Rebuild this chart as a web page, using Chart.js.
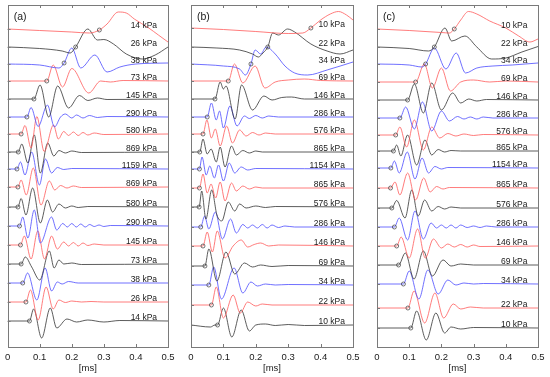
<!DOCTYPE html>
<html>
<head>
<meta charset="utf-8">
<script src="https://cdn.jsdelivr.net/npm/chart.js@4.4.0/dist/chart.umd.min.js"></script>
<style>
  html, body { margin: 0; padding: 0; background: #fff; }
  #wrap { position: relative; width: 550px; height: 377px; }
  .panel { position: absolute; top: 0; height: 377px; }
</style>
</head>
<body>
<div id="wrap">
  <div class="panel" style="left:0;width:183px"><canvas id="chartA"></canvas></div>
  <div class="panel" style="left:183px;width:183px"><canvas id="chartB"></canvas></div>
  <div class="panel" style="left:366px;width:184px"><canvas id="chartC"></canvas></div>
</div>
<script>
// data: time in ms, amplitude (up = positive)

const xTicks = [0, 0.1, 0.2, 0.3, 0.4, 0.5];
const traceColors = ['#ff5a5a', '#333333', '#4b4bff'];

// ---- panel (a)
const pressuresA = [14, 26, 38, 73, 145, 290, 580, 869, 1159, 869, 580, 290, 145, 73, 38, 26, 14];
const baselinesA = [29, 47, 64, 81, 99, 117, 134, 152, 169, 187, 207, 226, 245, 264, 283, 302, 321];
const markersA = [0.286, 0.212, 0.176, 0.122, 0.082, 0.06, 0.042, 0.033, 0.029, 0.032, 0.032, 0.037, 0.04, 0.042, 0.047, 0.057, 0.068];
const wavesA = [
  [[0,0],[0.1,-1.5],[0.2,-3],[0.255,-4],[0.286,-1],[0.31,5],[0.345,17],[0.37,16],[0.395,10],[0.44,1],[0.47,-6],[0.5,-13]],
  [[0,0],[0.1,-1.5],[0.17,-4],[0.195,-6],[0.212,0],[0.25,18],[0.28,7],[0.3,7.5],[0.33,3],[0.37,-7],[0.42,-12],[0.46,-8],[0.5,0]],
  [[0,0],[0.1,-1],[0.16,-4],[0.176,1],[0.2,16],[0.228,-4],[0.272,9],[0.31,-8],[0.35,-3],[0.4,0],[0.5,1]],
  [[0,0],[0.1,0],[0.122,0],[0.142,16],[0.171,-6],[0.2,12.5],[0.253,-12],[0.29,0],[0.32,-1],[0.36,0.5],[0.5,0]],
  [[0,0],[0.07,0],[0.082,0],[0.101,14],[0.128,-18],[0.156,13],[0.19,-9],[0.224,3.5],[0.25,-1.5],[0.28,1],[0.31,-0.5],[0.5,0]],
  [[0,0],[0.05,0],[0.06,0],[0.073,9.5],[0.095,-9.5],[0.124,12],[0.146,-10],[0.165,0],[0.18,3],[0.2,-1],[0.215,2],[0.235,-1],[0.255,1.5],[0.28,-0.5],[0.31,0.5],[0.5,0]],
  [[0,0],[0.035,0],[0.042,0],[0.054,8.5],[0.073,-14],[0.091,17.5],[0.114,-17.5],[0.143,9],[0.158,-5],[0.175,2.5],[0.19,-1.5],[0.205,2],[0.22,-1.5],[0.235,1.5],[0.25,-1],[0.27,1],[0.3,-0.5],[0.5,0]],
  [[0,0],[0.025,0],[0.033,0],[0.044,8],[0.063,-11],[0.083,17],[0.102,-21],[0.125,9],[0.144,-4],[0.16,1.5],[0.18,-1],[0.2,1],[0.23,-0.5],[0.5,0]],
  [[0,0],[0.022,0],[0.029,0],[0.04,7],[0.054,-6],[0.075,17],[0.099,-16],[0.118,10],[0.137,-4],[0.155,1.5],[0.175,-0.5],[0.2,0.5],[0.5,0]],
  [[0,0],[0.025,0],[0.032,0],[0.042,7],[0.058,-8],[0.08,19],[0.104,-18],[0.13,6],[0.147,-3],[0.165,1.5],[0.185,-1],[0.205,1],[0.23,-0.5],[0.5,0]],
  [[0,0],[0.025,0],[0.032,0],[0.042,8.5],[0.057,-8],[0.078,19],[0.102,-16],[0.124,7],[0.14,-5],[0.16,3],[0.18,-1],[0.2,1],[0.22,-0.5],[0.25,0.5],[0.5,0]],
  [[0,0],[0.03,0],[0.037,0],[0.047,9],[0.063,-12],[0.083,16],[0.102,-17],[0.137,9],[0.153,-4],[0.172,2.5],[0.186,-1],[0.2,2.5],[0.214,-1],[0.228,2],[0.242,-1],[0.256,1.5],[0.27,-0.5],[0.285,1],[0.3,-0.5],[0.32,0.5],[0.5,0]],
  [[0,0],[0.033,0],[0.04,0],[0.052,9],[0.073,-14],[0.094,14],[0.115,-14],[0.137,9],[0.155,-4],[0.175,3],[0.19,-1],[0.205,2.5],[0.22,-1],[0.235,2],[0.25,-0.5],[0.27,1],[0.3,0],[0.5,0]],
  [[0,0],[0.035,0],[0.042,0],[0.055,7],[0.075,-3],[0.1,-16],[0.13,13],[0.145,-4],[0.16,4],[0.175,0],[0.2,1],[0.23,-0.5],[0.5,0]],
  [[0,0],[0.04,0],[0.047,0],[0.062,10],[0.091,-17],[0.117,15],[0.137,-8],[0.155,1],[0.17,-1],[0.19,1.5],[0.22,0],[0.5,0]],
  [[0,0],[0.05,0],[0.057,0],[0.071,12],[0.095,-18],[0.12,15],[0.142,-7],[0.16,2],[0.18,-0.5],[0.2,1],[0.23,0],[0.26,0.5],[0.3,0],[0.5,0]],
  [[0,0],[0.06,0],[0.068,0],[0.081,12],[0.106,-17],[0.133,13],[0.153,-7],[0.185,2],[0.215,-1],[0.25,1],[0.3,-1],[0.35,0.5],[0.5,0]]
];

// ---- panel (b)
const pressuresB = [10, 22, 34, 69, 146, 286, 576, 865, 1154, 865, 576, 286, 146, 69, 34, 22, 10];
const baselinesB = [28, 47, 64, 81, 99, 117, 134, 152, 169, 188, 207, 227, 246, 266, 285, 305, 325];
const markersB = [0.37, 0.237, 0.185, 0.115, 0.074, 0.05, 0.037, 0.027, 0.026, 0.026, 0.025, 0.03, 0.037, 0.043, 0.055, 0.063, 0.082];
const wavesB = [
  [[0,0],[0.1,-1.5],[0.2,-3.5],[0.3,-5.5],[0.345,-5],[0.37,0],[0.4,8],[0.43,14],[0.455,16.5],[0.48,13],[0.5,8]],
  [[0,0],[0.08,-1],[0.15,-3],[0.19,-7],[0.208,-10],[0.222,-6],[0.237,0],[0.252,14],[0.27,12],[0.298,18],[0.32,15],[0.37,3],[0.42,-4],[0.46,-7],[0.5,-3]],
  [[0,0],[0.1,-2],[0.15,-5],[0.168,-11],[0.185,0],[0.198,14],[0.215,10],[0.232,17],[0.26,10],[0.29,-2],[0.32,-9],[0.36,-11],[0.42,-6],[0.5,2]],
  [[0,0],[0.1,0],[0.115,0],[0.134,17],[0.16,-2],[0.198,15],[0.228,-7],[0.26,-1],[0.3,1],[0.35,2],[0.4,0.5],[0.5,0]],
  [[0,0],[0.065,0],[0.074,0],[0.09,17],[0.1,10],[0.108,13],[0.136,-20],[0.156,14],[0.19,-11],[0.225,3],[0.25,-1],[0.28,1.5],[0.31,2],[0.35,0],[0.5,0]],
  [[0,0],[0.043,0],[0.05,0],[0.063,14],[0.078,-3],[0.088,6],[0.1,-11],[0.12,11],[0.142,-9],[0.165,1],[0.18,-1.5],[0.2,1.5],[0.22,-1],[0.24,1],[0.27,0],[0.5,0]],
  [[0,0],[0.03,0],[0.037,0],[0.049,14],[0.063,-4],[0.075,5],[0.09,-12],[0.11,8],[0.128,-9],[0.15,4],[0.17,-2],[0.19,1.5],[0.21,-1],[0.23,1],[0.26,0],[0.5,0]],
  [[0,0],[0.02,0],[0.027,0],[0.037,13],[0.05,-2],[0.062,3],[0.078,-10],[0.09,5],[0.105,-15],[0.125,6],[0.14,-3],[0.16,1.5],[0.18,-1],[0.2,1],[0.22,0],[0.5,0]],
  [[0,0],[0.02,0],[0.026,0],[0.034,12],[0.047,-6],[0.058,3],[0.072,-9],[0.085,4],[0.1,-12],[0.118,6],[0.135,-4],[0.155,2],[0.175,-1],[0.2,0.5],[0.5,0]],
  [[0,0],[0.02,0],[0.026,0],[0.037,14],[0.05,-5],[0.062,4],[0.076,-10],[0.09,6],[0.105,-13],[0.125,5],[0.14,-3],[0.16,2],[0.18,-1],[0.2,1],[0.22,0],[0.5,0]],
  [[0,0],[0.02,0],[0.025,0],[0.033,16],[0.046,-12],[0.064,17],[0.08,-8],[0.095,-14],[0.115,5],[0.135,-4],[0.15,3],[0.17,-1],[0.2,1],[0.23,-0.5],[0.26,0.5],[0.5,0]],
  [[0,0],[0.024,0],[0.03,0],[0.042,11],[0.055,-2],[0.075,15],[0.097,-12],[0.122,8],[0.14,-6],[0.16,2.5],[0.175,-1],[0.19,2],[0.205,-1],[0.22,2.5],[0.235,-1],[0.25,2],[0.27,-0.5],[0.29,1],[0.32,0],[0.5,0]],
  [[0,0],[0.03,0],[0.037,0],[0.05,14],[0.066,-6],[0.081,15],[0.105,-12],[0.13,0],[0.155,6],[0.175,-1],[0.195,1.5],[0.215,3],[0.24,0],[0.27,1],[0.5,0]],
  [[0,0],[0.036,0],[0.043,0],[0.055,17],[0.08,-15],[0.108,14],[0.135,-8],[0.165,3],[0.19,-1],[0.215,1],[0.25,-0.5],[0.3,0.5],[0.5,0]],
  [[0,0],[0.048,0],[0.055,0],[0.07,18],[0.094,-14],[0.133,17],[0.16,-8],[0.185,3],[0.205,-1],[0.23,1],[0.26,0],[0.3,0.5],[0.5,0]],
  [[0,0],[0.056,0],[0.063,0],[0.078,18],[0.1,-13],[0.13,10],[0.152,-8],[0.175,3],[0.2,-1],[0.22,1],[0.25,0],[0.5,0]],
  [[0,0],[0.06,-2],[0.074,0],[0.082,0],[0.1,17],[0.126,-12],[0.155,15],[0.18,-6],[0.2,0],[0.23,1],[0.26,-0.5],[0.3,0.5],[0.35,-0.5],[0.5,0]]
];

// ---- panel (c)
const pressuresC = [10, 22, 34, 69, 146, 286, 576, 865, 1154, 865, 576, 286, 146, 69, 34, 22, 10];
const baselinesC = [29, 47, 64, 82, 100, 118, 135, 151, 168, 188, 208, 227, 246, 265, 284, 308, 328];
const markersC = [0.24, 0.178, 0.151, 0.12, 0.095, 0.071, 0.058, 0.051, 0.043, 0.042, 0.046, 0.054, 0.061, 0.067, 0.082, 0.096, 0.105];
const wavesC = [
  [[0,0],[0.1,-1.5],[0.2,-3.5],[0.225,-4],[0.24,0],[0.26,9],[0.284,17.5],[0.31,15],[0.35,8],[0.4,1],[0.44,-7],[0.475,-13],[0.5,-10]],
  [[0,0],[0.1,-1.5],[0.16,-4],[0.178,0],[0.211,19],[0.232,6],[0.273,11],[0.31,0],[0.356,-12],[0.4,-11],[0.45,-5],[0.5,0.5]],
  [[0,0],[0.1,-1],[0.14,-3],[0.151,0],[0.178,16],[0.214,-5],[0.246,11],[0.275,-9],[0.31,-4],[0.36,-2],[0.42,-1],[0.5,1]],
  [[0,0],[0.1,0],[0.12,0],[0.147,18],[0.172,-6],[0.2,14],[0.228,-9],[0.26,0],[0.3,2],[0.35,0],[0.4,1],[0.5,0]],
  [[0,0],[0.085,0],[0.095,0],[0.116,16],[0.144,-13],[0.17,17],[0.2,-10],[0.235,7],[0.26,-3],[0.285,1],[0.31,-1],[0.34,0.5],[0.5,0]],
  [[0,0],[0.062,0],[0.071,0],[0.089,11],[0.116,-11],[0.141,16],[0.17,-13],[0.2,7],[0.225,-3],[0.25,1.5],[0.27,-1],[0.29,1],[0.31,-1],[0.33,1],[0.36,0],[0.5,0]],
  [[0,0],[0.05,0],[0.058,0],[0.071,8],[0.092,-12],[0.116,15],[0.144,-15],[0.17,8],[0.195,-3],[0.22,1.5],[0.245,-1],[0.27,1],[0.3,-0.5],[0.33,0.5],[0.5,0]],
  [[0,0],[0.043,0],[0.051,0],[0.061,6],[0.074,-5],[0.095,16],[0.123,-14],[0.149,11],[0.17,-4],[0.19,1.5],[0.21,-1],[0.23,0.5],[0.26,0],[0.5,0]],
  [[0,0],[0.036,0],[0.043,0],[0.054,7],[0.069,-5],[0.094,16],[0.118,-11],[0.14,10],[0.16,-5],[0.18,1.5],[0.2,-1],[0.22,0.5],[0.5,0]],
  [[0,0],[0.035,0],[0.042,0],[0.056,6],[0.071,-7],[0.095,15],[0.12,-12],[0.145,10],[0.165,-4],[0.185,1.5],[0.205,-1],[0.225,0.5],[0.5,0]],
  [[0,0],[0.038,0],[0.046,0],[0.061,7.5],[0.087,-10],[0.108,18],[0.128,-8],[0.148,8],[0.17,-3],[0.19,1.5],[0.21,-1],[0.23,1],[0.26,0],[0.5,0]],
  [[0,0],[0.047,0],[0.054,0],[0.069,9],[0.095,-13],[0.118,16],[0.144,-12],[0.168,4],[0.185,-1],[0.2,2],[0.215,-1],[0.23,2],[0.245,-1],[0.26,2],[0.28,-0.5],[0.3,1],[0.32,-0.5],[0.34,1],[0.37,0],[0.5,0]],
  [[0,0],[0.053,0],[0.061,0],[0.075,9],[0.1,-12],[0.126,17],[0.15,-12],[0.175,7],[0.2,-2],[0.22,2],[0.24,-1],[0.26,1.5],[0.28,-1],[0.3,1],[0.32,-0.5],[0.5,0]],
  [[0,0],[0.058,0],[0.067,0],[0.088,12],[0.115,-14],[0.144,14],[0.172,-11],[0.205,5],[0.23,-1],[0.26,1],[0.3,0],[0.5,0]],
  [[0,0],[0.074,0],[0.082,0],[0.1,13],[0.13,-15],[0.158,14],[0.19,-10],[0.22,4],[0.245,-1],[0.27,1],[0.3,0],[0.33,0.5],[0.5,0]],
  [[0,0],[0.088,0],[0.096,0],[0.115,17],[0.148,-15],[0.18,15],[0.207,-10],[0.237,4],[0.26,-1],[0.29,1],[0.33,0],[0.5,0]],
  [[0,0],[0.095,0],[0.105,0],[0.123,17],[0.153,-12],[0.183,15],[0.21,-5],[0.23,1],[0.26,-1],[0.3,0.5],[0.5,0]]
];

const FONT = '"Liberation Sans", Arial, sans-serif';

// frame, inner ticks, trace labels and panel letter
const panelDecor = {
    id: 'panelDecor',
    afterDatasetsDraw(chart, args, opts) {
        const { ctx, chartArea: a, scales: { x, y } } = chart;
        ctx.save();
        ctx.strokeStyle = '#7a7a7a';
        ctx.lineWidth = 1;
        ctx.strokeRect(Math.round(a.left) + 0.5, Math.round(a.top) + 0.5,
            Math.round(a.right - a.left), Math.round(a.bottom - a.top));

        ctx.beginPath();
        xTicks.slice(1, -1).forEach(t => {
            const px = Math.round(x.getPixelForValue(t)) + 0.5;
            ctx.moveTo(px, a.top); ctx.lineTo(px, a.top + 3);
            ctx.moveTo(px, a.bottom); ctx.lineTo(px, a.bottom - 3);
        });
        opts.baselines.forEach(b => {
            const py = Math.round(y.getPixelForValue(b)) + 0.5;
            ctx.moveTo(a.left, py); ctx.lineTo(a.left + 3, py);
        });
        ctx.stroke();

        ctx.fillStyle = '#1a1a1a';
        ctx.font = '8.5px ' + FONT;
        ctx.textAlign = 'right';
        ctx.textBaseline = 'middle';
        opts.pressures.forEach((p, i) => {
            ctx.fillText(p + ' kPa', x.getPixelForValue(opts.labelT), y.getPixelForValue(opts.baselines[i] - 3.5));
        });

        ctx.font = '10.5px ' + FONT;
        ctx.textAlign = 'left';
        ctx.fillText(opts.tag, a.left + 6, a.top + 12);
        ctx.restore();
    }
};

function setupPanel(canvasId, tag, pressures, baselines, markers, waves, pad, labelT) {
    const ctx = document.getElementById(canvasId)?.getContext('2d');
    if (!ctx) return;

    const datasets = waves.map((w, i) => ({
        label: pressures[i] + ' kPa',
        data: w.map(p => ({ x: p[0], y: baselines[i] - p[1] })),
        borderColor: traceColors[i % 3],
        borderWidth: 0.8,
        pointRadius: 0,
        cubicInterpolationMode: 'monotone',
        fill: false
    }));

    // onset markers sit on a keypoint of each trace
    datasets.unshift({
        label: 'onset',
        data: markers.map((t, i) => {
            const p = waves[i].find(q => q[0] === t);
            return { x: t, y: baselines[i] - (p ? p[1] : 0) };
        }),
        showLine: false,
        pointRadius: 2,
        pointBorderWidth: 0.7,
        pointBorderColor: '#3a3a3a',
        pointBackgroundColor: 'rgba(0,0,0,0)'
    });

    new Chart(ctx, {
        type: 'line',
        data: { datasets },
        options: {
            responsive: true,
            maintainAspectRatio: false,
            animation: false,
            layout: { padding: pad },
            plugins: {
                legend: { display: false },
                tooltip: { enabled: false },
                panelDecor: { tag, pressures, baselines, labelT }
            },
            scales: {
                x: {
                    type: 'linear',
                    min: 0,
                    max: 0.5,
                    afterBuildTicks: s => { s.ticks = xTicks.map(v => ({ value: v })); },
                    afterFit: s => { s.height = 30; },
                    grid: { display: false, drawTicks: false },
                    border: { display: false },
                    ticks: { color: '#1a1a1a', font: { size: 9.5, family: FONT }, padding: 5, maxRotation: 0 },
                    title: { display: true, text: '[ms]', color: '#1a1a1a', font: { size: 9.5, family: FONT }, padding: { top: 0, bottom: 3 } }
                },
                y: {
                    type: 'linear',
                    reverse: true,
                    min: 5,
                    max: 347,
                    display: false
                }
            }
        },
        plugins: [panelDecor]
    });
}

setupPanel('chartA', '(a)', pressuresA, baselinesA, markersA, wavesA, { left: 6.5, right: 15, top: 5, bottom: 0 }, 0.466);
setupPanel('chartB', '(b)', pressuresB, baselinesB, markersB, wavesB, { left: 8, right: 13, top: 5, bottom: 0 }, 0.475);
setupPanel('chartC', '(c)', pressuresC, baselinesC, markersC, wavesC, { left: 11, right: 12, top: 5, bottom: 0 }, 0.467);
</script>
</body>
</html>
